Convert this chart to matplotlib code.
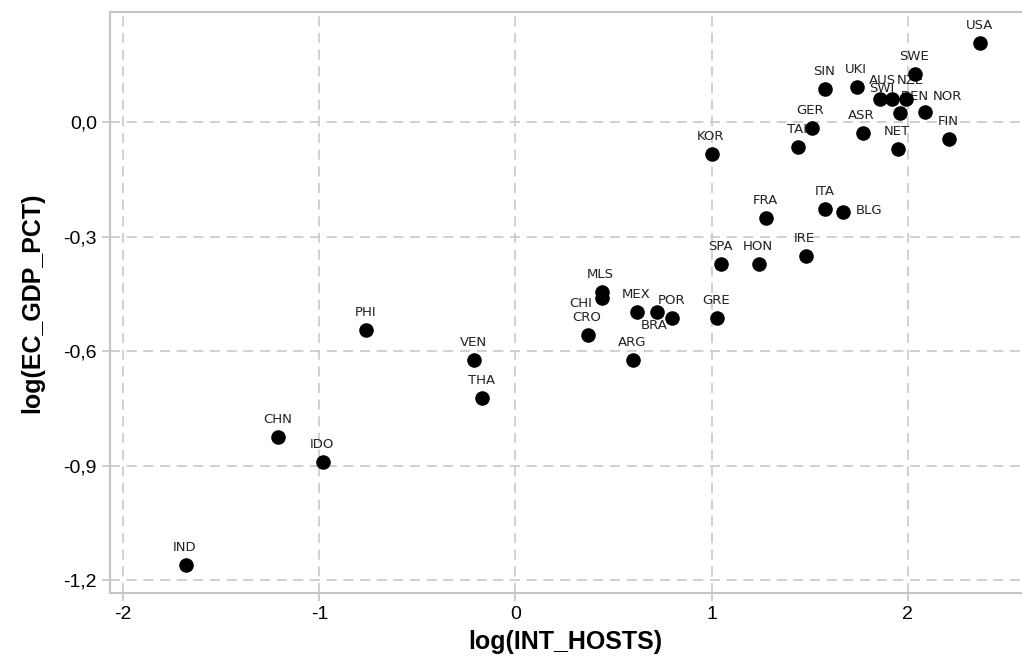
import matplotlib
matplotlib.use("Agg")
import matplotlib.pyplot as plt

# country codes with log(INT_HOSTS) and log(EC_GDP_PCT)
countries = ["USA", "SWE", "SIN", "UKI", "SWI", "AUS", "NZE", "DEN", "NOR", "FIN",
             "GER", "TAI", "ASR", "NET", "KOR", "FRA", "ITA", "BLG", "SPA", "HON",
             "IRE", "MLS", "CHI", "MEX", "BRA", "POR", "GRE", "CRO", "ARG", "PHI",
             "VEN", "THA", "CHN", "IDO", "IND"]
int_hosts = [2.37, 2.04, 1.58, 1.74, 1.86, 1.92, 1.99, 1.96, 2.09, 2.21,
             1.51, 1.44, 1.77, 1.95, 1.00, 1.28, 1.58, 1.67, 1.05, 1.24,
             1.48, 0.44, 0.44, 0.62, 0.72, 0.80, 1.03, 0.37, 0.60, -0.76,
             -0.21, -0.17, -1.21, -0.98, -1.68]
ec_gdp_pct = [0.207, 0.126, 0.086, 0.091, 0.060, 0.060, 0.060, 0.024, 0.026, -0.045,
              -0.016, -0.065, -0.029, -0.071, -0.084, -0.252, -0.228, -0.236, -0.372, -0.372,
              -0.351, -0.445, -0.461, -0.498, -0.498, -0.514, -0.514, -0.558, -0.624, -0.545,
              -0.624, -0.723, -0.825, -0.891, -1.161]

# label nudges (pixels) where the default spot above the dot is crowded
nudge = {"BLG": (26, -5), "NOR": (22, 9), "DEN": (15, 10), "CHI": (-21, -12),
         "BRA": (-2, -20), "SWI": (2, 4), "AUS": (-10, 12), "NZE": (5, 12)}

fig = plt.figure(figsize=(10.22, 6.71), dpi=100)
ax = fig.add_axes([0.1076, 0.1162, 0.8914, 0.8658])

ax.scatter(int_hosts, ec_gdp_pct, s=110, color="black", zorder=3, linewidths=0)
for name, x, y in zip(countries, int_hosts, ec_gdp_pct):
    dx, dy = nudge.get(name, (-1, 11))
    ax.annotate(name, (x, y), xytext=(dx, dy), textcoords="offset pixels",
                ha="center", va="bottom", fontsize=9.5, color="#222222",
                family="DejaVu Sans", zorder=2)

ax.set_xlim(-2.068, 2.578)
ax.set_ylim(-1.234, 0.288)
ax.set_xticks([-2, -1, 0, 1, 2])
ax.set_xticklabels(["-2", "-1", "0", "1", "2"])
yt = [0.0, -0.3, -0.6, -0.9, -1.2]
ax.set_yticks(yt)
ax.set_yticklabels(["0,0", "-0,3", "-0,6", "-0,9", "-1,2"])
ax.grid(True, linestyle=(0, (6, 4)), color="#c8c8c8", linewidth=1.2, zorder=0)
ax.set_axisbelow(True)
for sp in ax.spines.values():
    sp.set_color("#c4c4c4")
    sp.set_linewidth(1.5)
ax.spines["right"].set_visible(False)
ax.tick_params(colors="#c4c4c4", length=6, width=1.2, labelcolor="black",
               labelsize=14)
for lab in ax.get_xticklabels() + ax.get_yticklabels():
    lab.set_family("Liberation Sans")

ax.set_xlabel("log(INT_HOSTS)", fontsize=18, fontweight="bold",
              family="Liberation Sans", labelpad=5)
ax.set_ylabel("log(EC_GDP_PCT)", fontsize=18, fontweight="bold",
              family="Liberation Sans", labelpad=14)

fig.savefig("out.png", dpi=100)
